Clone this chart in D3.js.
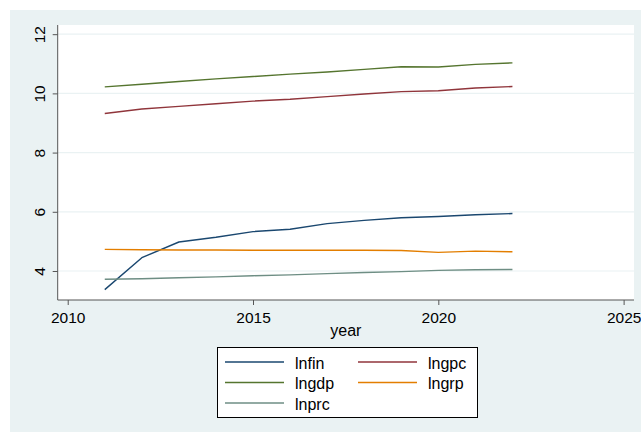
<!DOCTYPE html>
<html>
<head>
<meta charset="utf-8">
<script src="https://cdn.jsdelivr.net/npm/d3@7/dist/d3.min.js"></script>
<style>
  html, body { margin: 0; padding: 0; background: #ffffff; }
  svg { display: block; font-family: "Liberation Sans", Arial, sans-serif; }
</style>
</head>
<body>
<svg id="chart" width="641" height="432"></svg>
<script>
// Years and series (log values)
const years = [2011, 2012, 2013, 2014, 2015, 2016, 2017, 2018, 2019, 2020, 2021, 2022];
const lnfin = [3.37, 4.45, 4.98, 5.14, 5.33, 5.41, 5.60, 5.71, 5.80, 5.84, 5.90, 5.94];
const lngpc = [9.32, 9.47, 9.56, 9.65, 9.74, 9.80, 9.89, 9.98, 10.06, 10.09, 10.18, 10.23];
const lngdp = [10.22, 10.31, 10.40, 10.49, 10.57, 10.65, 10.72, 10.81, 10.90, 10.89, 10.98, 11.03];
const lngrp = [4.73, 4.72, 4.71, 4.71, 4.70, 4.70, 4.70, 4.70, 4.69, 4.63, 4.67, 4.65];
const lnprc = [3.72, 3.74, 3.77, 3.80, 3.84, 3.87, 3.91, 3.95, 3.98, 4.02, 4.04, 4.05];

const seriesNames = ["lnfin", "lngpc", "lngdp", "lngrp", "lnprc"];
const seriesValues = [lnfin, lngpc, lngdp, lngrp, lnprc];
const seriesColors = ["#1a476f", "#90353b", "#55752f", "#e37e00", "#6e8e84"];

const xTicks = [2010, 2015, 2020, 2025];
const yTicks = [4, 6, 8, 10, 12];

const svg = d3.select("#chart");
const W = 641, H = 432;

// Graph region background
svg.append("rect").attr("x", 0).attr("y", 0).attr("width", W).attr("height", H).attr("fill", "#ffffff");
svg.append("rect").attr("x", 10).attr("y", 10).attr("width", W - 10).attr("height", H - 10).attr("fill", "#eaf2f3");

// Plot region
const plot = { left: 57.7, right: 634, top: 25, bottom: 300 };
svg.append("rect")
  .attr("x", plot.left).attr("y", plot.top)
  .attr("width", plot.right - plot.left).attr("height", plot.bottom - plot.top)
  .attr("fill", "#ffffff");

const x = d3.scaleLinear().domain([2009.73, 2025.28]).range([plot.left, plot.right]);
const y = d3.scaleLinear().domain([3.02, 12.31]).range([plot.bottom, plot.top]);

// Horizontal gridlines
svg.append("g").selectAll("line").data(yTicks).join("line")
  .attr("x1", plot.left).attr("x2", plot.right)
  .attr("y1", d => y(d)).attr("y2", d => y(d))
  .attr("stroke", "#eaf2f3").attr("stroke-width", 1.2);

// Series lines
const line = d3.line().x((d, i) => x(years[i])).y(d => y(d));
seriesValues.forEach((vals, k) => {
  svg.append("path")
    .datum(vals)
    .attr("d", line)
    .attr("fill", "none")
    .attr("stroke", seriesColors[k])
    .attr("stroke-width", 1.4)
    .attr("stroke-linejoin", "round");
});

// Y axis
const yAxis = d3.axisLeft(y).tickValues(yTicks).tickSize(5).tickPadding(0).tickFormat(d3.format("d"));
const gy = svg.append("g").attr("transform", `translate(${plot.left},0)`).call(yAxis);
gy.select(".domain").attr("stroke", "#555").attr("stroke-width", 1).attr("d", `M0,${plot.top}V${plot.bottom}`);
gy.selectAll(".tick line").attr("stroke", "#555");
gy.selectAll(".tick text")
  .attr("fill", "#000")
  .style("font-size", "15.5px")
  .attr("text-anchor", "middle")
  .attr("x", 0).attr("dy", 0)
  .attr("transform", "translate(-13,0) rotate(-90)");

// X axis
const xAxis = d3.axisBottom(x).tickValues(xTicks).tickSize(5).tickFormat(d3.format("d"));
const gx = svg.append("g").attr("transform", `translate(0,${plot.bottom})`).call(xAxis);
gx.select(".domain").attr("stroke", "#555").attr("stroke-width", 1).attr("d", `M${plot.left},0H${plot.right}`);
gx.selectAll(".tick line").attr("stroke", "#555");
gx.selectAll(".tick text")
  .attr("fill", "#000")
  .style("font-size", "15.5px")
  .attr("y", 22.5).attr("dy", 0);

// X axis title
svg.append("text")
  .attr("x", (plot.left + plot.right) / 2).attr("y", 336)
  .attr("text-anchor", "middle")
  .style("font-size", "16px")
  .text("year");

// Legend
const lg = svg.append("g");
lg.append("rect")
  .attr("x", 217.5).attr("y", 347.5).attr("width", 260).attr("height", 70)
  .attr("fill", "#ffffff").attr("stroke", "#000").attr("stroke-width", 1);
seriesNames.forEach((name, i) => {
  const col = i % 2, row = Math.floor(i / 2);
  const lx = col === 0 ? 225 : 358;
  const ly = 362 + row * 20.5;
  lg.append("line")
    .attr("x1", lx).attr("x2", lx + 59)
    .attr("y1", ly).attr("y2", ly)
    .attr("stroke", seriesColors[i]).attr("stroke-width", 1.4);
  lg.append("text")
    .attr("x", lx + 70).attr("y", ly + 6.5)
    .style("font-size", "16px")
    .text(name);
});
</script>
</body>
</html>
